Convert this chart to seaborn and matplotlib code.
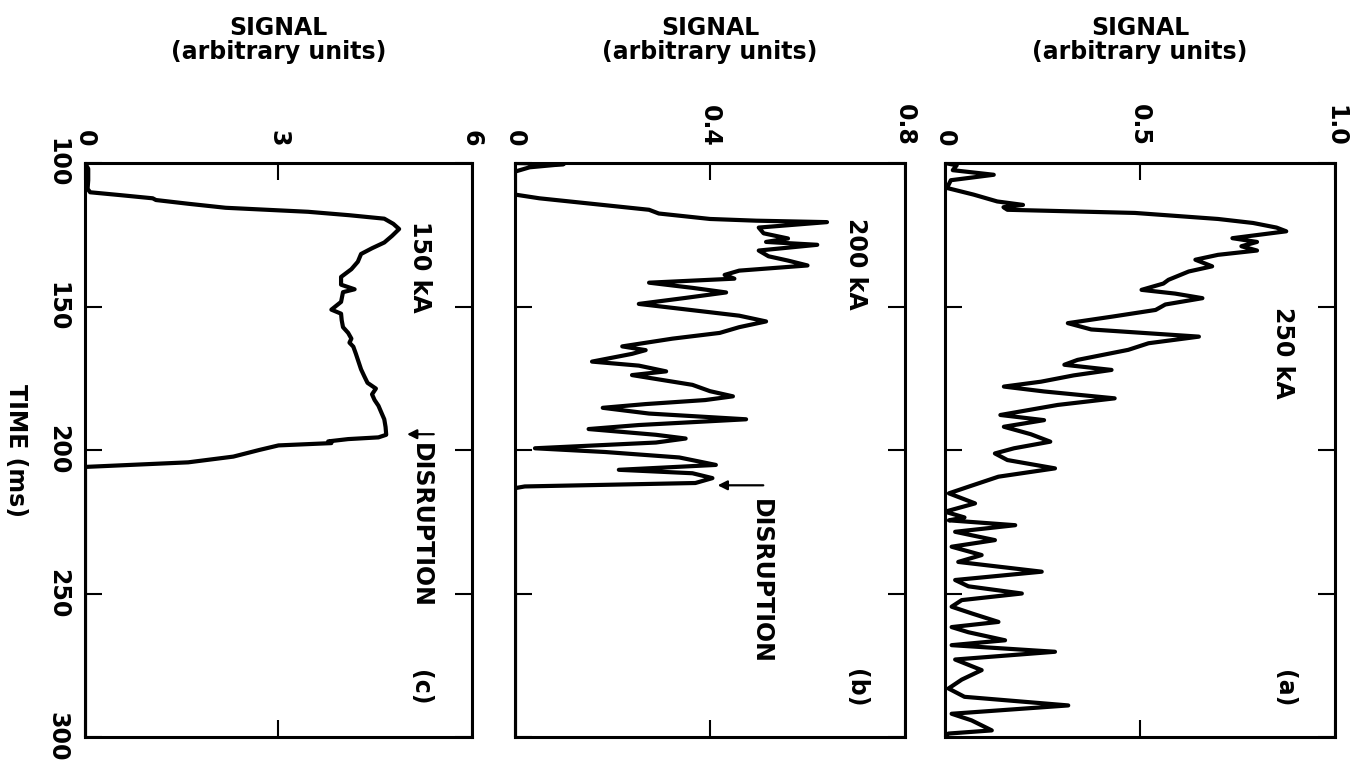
import matplotlib
matplotlib.use("Agg")
import matplotlib.pyplot as plt
import seaborn as sns

# ---------------- data (time in ms, signal in arbitrary units) ----------------
time_a = [100.0, 100.8, 102.5, 104.1, 106.0, 108.7, 111.0, 113.4, 114.6, 115.4,
          116.3, 117.4, 119.5, 120.9, 122.5, 123.8, 126.2, 127.5, 129.0, 130.5,
          132.0, 133.7, 136.0, 137.8, 140.7, 142.0, 144.2, 145.5, 147.1, 149.3,
          151.2, 153.5, 155.8, 158.0, 160.5, 162.8, 165.1, 168.6, 170.3, 172.1,
          174.0, 176.2, 177.9, 179.6, 182.0, 184.3, 187.8, 189.6, 191.9, 194.5,
          197.1, 199.4, 201.2, 203.5, 206.4, 209.3, 212.8, 215.1, 218.6, 221.5,
          223.5, 224.5, 226.2, 228.5, 231.4, 233.7, 236.6, 239.0, 242.4, 245.3,
          247.5, 250.0, 252.3, 254.6, 257.0, 259.9, 261.7, 263.5, 266.3, 268.0,
          270.3, 273.0, 276.7, 280.0, 283.1, 286.0, 289.0, 291.9, 294.2, 297.7,
          298.8, 300.0]
signal_a = [0.00, 0.03, 0.02, 0.125, 0.015, 0.005, 0.073, 0.134, 0.20, 0.15,
            0.16, 0.487, 0.70, 0.79, 0.85, 0.875, 0.737, 0.80, 0.76, 0.80,
            0.70, 0.642, 0.685, 0.625, 0.573, 0.56, 0.504, 0.59, 0.66, 0.565,
            0.54, 0.43, 0.315, 0.375, 0.651, 0.522, 0.47, 0.34, 0.306, 0.427,
            0.33, 0.246, 0.151, 0.254, 0.435, 0.289, 0.142, 0.254, 0.151, 0.22,
            0.27, 0.177, 0.128, 0.16, 0.282, 0.137, 0.06, 0.01, 0.077, 0.00,
            0.05, 0.01, 0.18, 0.026, 0.128, 0.017, 0.094, 0.034, 0.248, 0.026,
            0.06, 0.197, 0.043, 0.017, 0.07, 0.137, 0.017, 0.06, 0.154, 0.017,
            0.282, 0.026, 0.094, 0.043, 0.009, 0.05, 0.316, 0.017, 0.068, 0.12,
            0.009, 0.00]

time_b = [100.0, 100.4, 101.5, 103.0, 111.0, 112.3, 116.3, 117.6, 119.5, 120.1,
          120.6, 122.5, 124.5, 126.3, 127.5, 128.5, 130.5, 132.5, 134.0, 135.7,
          137.5, 139.0, 140.3, 141.7, 143.5, 145.1, 147.0, 149.1, 151.8, 153.2,
          155.2, 157.2, 159.2, 161.2, 163.9, 165.2, 166.5, 169.2, 170.6, 172.6,
          173.9, 177.3, 179.5, 181.3, 182.6, 184.0, 185.3, 187.3, 189.3, 191.3,
          192.7, 194.7, 196.0, 197.4, 199.4, 200.7, 202.6, 205.2, 206.9, 208.1,
          209.8, 211.5, 212.7, 213.3, 300.0]
signal_b = [0.00, 0.10, 0.03, 0.00, 0.00, 0.05, 0.275, 0.295, 0.40, 0.495,
            0.64, 0.50, 0.51, 0.56, 0.515, 0.62, 0.50, 0.52, 0.56, 0.60,
            0.46, 0.43, 0.45, 0.275, 0.364, 0.433, 0.35, 0.254, 0.39, 0.46,
            0.515, 0.46, 0.42, 0.323, 0.22, 0.268, 0.24, 0.158, 0.254, 0.31,
            0.24, 0.364, 0.40, 0.447, 0.39, 0.268, 0.18, 0.275, 0.474, 0.254,
            0.151, 0.289, 0.35, 0.289, 0.041, 0.185, 0.337, 0.412, 0.213, 0.364,
            0.405, 0.37, 0.02, 0.00, 0.00]

time_c = [100.0, 102.0, 106.0, 109.0, 110.2, 111.2, 112.3, 112.9, 114.2, 115.6,
          117.0, 118.2, 119.4, 121.2, 123.0, 125.4, 127.7, 129.7, 131.7, 134.4,
          137.0, 139.7, 142.4, 144.0, 145.0, 148.4, 151.1, 152.5, 154.8, 157.2,
          159.2, 161.2, 162.6, 164.0, 166.5, 169.2, 171.9, 174.3, 176.6, 178.6,
          180.6, 182.6, 184.6, 186.7, 189.3, 192.0, 194.7, 195.6, 196.2, 197.0,
          197.6, 198.4, 200.0, 202.3, 204.3, 205.3, 205.9, 300.0]
signal_c = [0.00, 0.05, 0.05, 0.04, 0.08, 0.55, 1.05, 1.10, 1.60, 2.18,
            3.46, 4.10, 4.64, 4.78, 4.87, 4.76, 4.64, 4.45, 4.28, 4.23,
            4.13, 3.97, 3.97, 4.18, 4.00, 3.97, 3.82, 3.97, 3.98, 4.00,
            4.08, 4.13, 4.10, 4.16, 4.20, 4.24, 4.28, 4.33, 4.38, 4.51,
            4.45, 4.49, 4.55, 4.59, 4.64, 4.66, 4.67, 4.55, 4.08, 3.77,
            3.82, 3.00, 2.70, 2.30, 1.60, 0.60, 0.00, 0.00]

time_ticks = [100, 150, 200, 250, 300]
time_ticklabels = ["100", "150", "200", "250", "300"]
signal_ticks_a = [0, 0.5, 1.0]
signal_ticklabels_a = ["0", "0.5", "1.0"]
signal_ticks_b = [0, 0.4, 0.8]
signal_ticklabels_b = ["0", "0.4", "0.8"]
signal_ticks_c = [0, 3, 6]
signal_ticklabels_c = ["0", "3", "6"]
current_labels = ["250 kA", "200 kA", "150 kA"]
panel_labels = ["(a)", "(b)", "(c)"]

# ---------------- style ----------------
sns.set_theme(style="white")
plt.rcParams["font.family"] = ["DejaVu Sans"]
plt.rcParams["font.weight"] = "bold"
plt.rcParams["text.color"] = "black"
plt.rcParams["axes.labelcolor"] = "black"
plt.rcParams["xtick.color"] = "black"
plt.rcParams["ytick.color"] = "black"
FS = 17

W, H = 1353, 770
fig = plt.figure(figsize=(W / 100, H / 100), dpi=100)

top_px, bot_px = 163, 737
panels = [
    dict(l=945, r=1335, t=time_a, s=signal_a, ticks=signal_ticks_a, tl=signal_ticklabels_a,
         smax=1.0, cur=(0.866, 166), lab=(0.87, 283), dis=None, name=0),
    dict(l=515, r=905, t=time_b, s=signal_b, ticks=signal_ticks_b, tl=signal_ticklabels_b,
         smax=0.8, cur=(0.70, 135), lab=(0.70, 283), dis=(212.3, 0.515, 0.41, 0.505, 217.0), name=1),
    dict(l=85, r=472, t=time_c, s=signal_c, ticks=signal_ticks_c, tl=signal_ticklabels_c,
         smax=6.0, cur=(5.2, 136), lab=(5.2, 283), dis=(194.5, 5.45, 4.95, 5.2, 197.5), name=2),
]

axes = []
for p in panels:
    ax = fig.add_axes([p["l"] / W, 1 - bot_px / H, (p["r"] - p["l"]) / W, (bot_px - top_px) / H])
    axes.append(ax)
    sns.lineplot(x=p["s"], y=p["t"], sort=False, estimator=None, color="black",
                 linewidth=3.0, ax=ax)
    ax.set_xlim(0, p["smax"])
    ax.set_ylim(300, 100)
    ax.set_xticks(p["ticks"])
    ax.set_xticklabels(p["tl"])
    ax.set_yticks(time_ticks)
    ax.set_yticklabels(time_ticklabels)
    ax.xaxis.tick_top()
    ax.tick_params(axis="x", direction="in", length=12, width=1.5, color="black",
                   labelcolor="black", top=True, bottom=True, labeltop=True,
                   labelbottom=False, labelrotation=-90, labelsize=FS, pad=12)
    ax.tick_params(axis="y", direction="in", length=12, width=1.5, color="black",
                   labelcolor="black", left=True, right=True,
                   labelleft=(p["name"] == 2), labelright=False,
                   labelrotation=-90, labelsize=FS, pad=11)
    for lab in ax.get_xticklabels() + ax.get_yticklabels():
        lab.set_fontweight("bold")
    for lab in ax.get_yticklabels():
        lab.set_verticalalignment("center")
    ax.set_xlabel("")
    ax.set_ylabel("")
    for sp in ax.spines.values():
        sp.set_visible(True)
        sp.set_color("black")
        sp.set_linewidth(2.2)
    ax.grid(False)

    ax.text(0.5, 1.215, "SIGNAL\n(arbitrary units)", transform=ax.transAxes,
            ha="center", va="center", fontsize=FS, fontweight="bold", linespacing=1.0,
            color="black")

    cx, cy = p["cur"]
    ax.text(cx, cy, current_labels[p["name"]], rotation=-90, ha="center", va="center",
            fontsize=FS, fontweight="bold", color="black")
    lx, ly = p["lab"]
    ax.text(lx, ly, panel_labels[p["name"]], rotation=-90, ha="center", va="center",
            fontsize=FS, fontweight="bold", color="black")
    if p["dis"] is not None:
        ta, s_tail, s_head, s_txt, t_txt = p["dis"]
        ax.annotate("", xy=(s_head, ta), xytext=(s_tail, ta),
                    arrowprops=dict(arrowstyle="-|>", color="black", lw=1.6,
                                    mutation_scale=14))
        ax.text(s_txt, t_txt, "DISRUPTION", rotation=-90, ha="center", va="top",
                fontsize=FS, fontweight="bold", color="black")

ax_c = axes[2]
ax_c.text((16 - 85) / 387, 0.5, "TIME (ms)", transform=ax_c.transAxes, rotation=-90,
          ha="center", va="center", fontsize=FS, fontweight="bold", color="black")

fig.savefig("out.png", dpi=100)
